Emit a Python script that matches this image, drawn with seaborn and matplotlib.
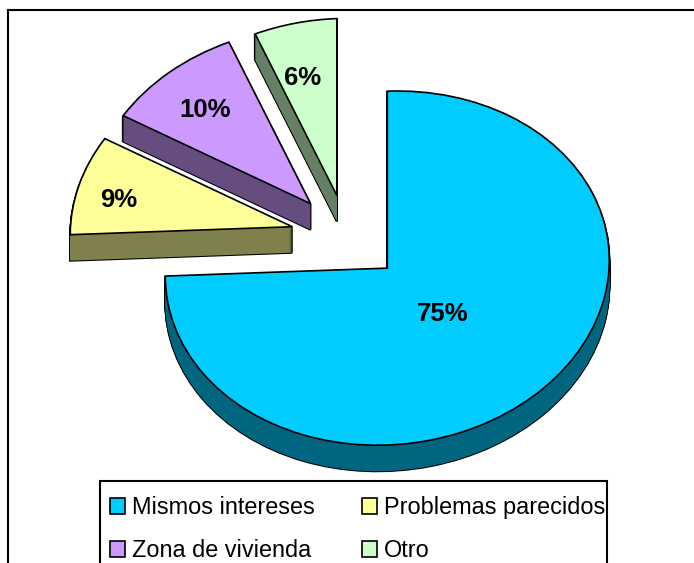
import matplotlib
matplotlib.use("Agg")
import matplotlib.pyplot as plt
from matplotlib.patches import Patch, Rectangle
from matplotlib.transforms import Affine2D
import numpy as np
import seaborn as sns

categories = ["Mismos intereses", "Problemas parecidos", "Zona de vivienda", "Otro"]
values = [75, 9, 10, 6]
top_colors = ["#00CCFF", "#FFFF99", "#CC99FF", "#CCFFCC"]
side_colors = ["#006680", "#80804D", "#664D80", "#668066"]

sns.set_theme(style="white")
plt.rcParams["font.family"] = ["Liberation Sans", "DejaVu Sans"]

W, H = 694, 563
squash = 0.797
radius = 222
center = (347, -236 / squash)
depth = 26
explode = [57, 57, 57, 54]

fig = plt.figure(figsize=(W / 100, H / 100), dpi=100)
ax = fig.add_axes([8 / W, -5 / H, 686 / W, 558 / H])

# the original 3D view leans a little, left side lower than the right
lean = 0.045
pivot = 387
shear = Affine2D(np.array([[1, 0, 0], [lean, 1, -lean * pivot], [0, 0, 1]]))


def draw(cy, colors, edge, lw, **kw):
    res = ax.pie(values, colors=colors, explode=explode, radius=radius,
                 center=(center[0], cy), startangle=90, counterclock=False,
                 frame=True, wedgeprops={"edgecolor": edge, "linewidth": lw}, **kw)
    for w in res[0]:
        w.set_transform(shear + ax.transData)
    return res


# outline of the extruded body first, then fill it with the darker side colour
steps = range(depth, 0, -1)
for d in steps:
    draw(center[1] - d / squash, side_colors, "black", 1.5)
for d in steps:
    draw(center[1] - d / squash, side_colors, "none", 0)

wedges, _, pct = draw(center[1], top_colors, "black", 1.2, autopct="%1.0f%%", pctdistance=0.72)

# percent labels sit at different distances in the original
nudges = [(-58, 44), (-20, -12), (-4, -7), (-4, -9)]
for t, (dx, dy) in zip(pct, nudges):
    x, y = t.get_position()
    t.set_position((x + dx, y + dy / squash))
    t.set_fontsize(18.5)
    t.set_fontweight("bold")
    t.set_color("black")

ax.set_aspect("auto")
ax.set_xlim(8, 694)
ax.set_ylim(-(H + 5) / squash, -10 / squash)
ax.set_xticks([])
ax.set_yticks([])
for side, s in ax.spines.items():
    s.set_visible(side in ("left", "top"))
    s.set_color("black")
    s.set_linewidth(1.5)

# legend box runs tight against the long label, so it is drawn apart from the legend
ax.add_patch(Rectangle((100 / W, -10 / H), 507 / W, (H - 481 + 10) / H, transform=fig.transFigure,
                       facecolor="white", edgecolor="black", linewidth=1.5, zorder=4, clip_on=False))

handles = [Patch(facecolor=c, edgecolor="black", linewidth=1.2) for c in top_colors]
# matplotlib fills legend columns first, the original reads row by row
order = [0, 2, 1, 3]
leg = ax.legend([handles[i] for i in order], [categories[i] for i in order], ncol=2,
                fontsize=16.9, labelcolor="black", frameon=False, loc="upper left",
                bbox_to_anchor=(93 / 686, (553 - 477 + 5) / 558), borderaxespad=0,
                handlelength=0.65, handleheight=0.65, handletextpad=0.3,
                columnspacing=2.0, labelspacing=0.87, borderpad=0.38)

fig.savefig("out.png", dpi=100)
